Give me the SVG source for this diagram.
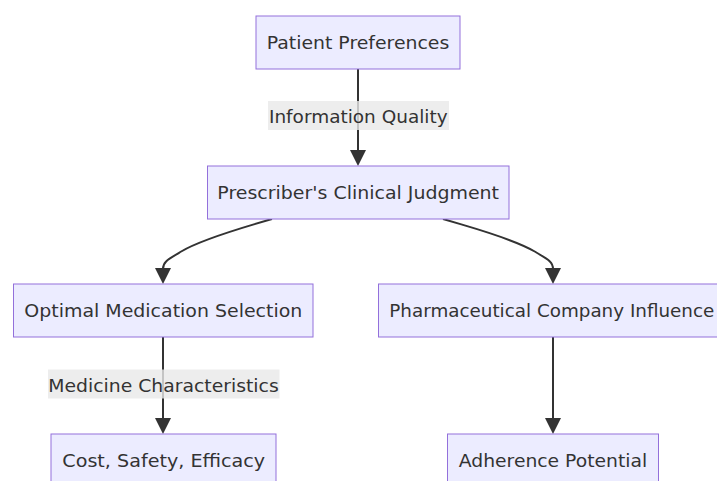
<svg xmlns="http://www.w3.org/2000/svg" width="717" height="481" viewBox="0 0 717 481">
<style>
  .node rect { fill: #ECECFF; stroke: #9370DB; stroke-width: 1; }
  .node text, .label text { font-family: "DejaVu Sans", "Liberation Sans", sans-serif; font-size: 18px; fill: #333333; text-anchor: middle; }
  .edge { fill: none; stroke: #333333; stroke-width: 2; }
  .head { fill: #333333; stroke: none; }
  .label rect { fill: rgba(232,232,232,0.8); stroke: none; }
</style>
<rect x="0" y="0" width="717" height="481" fill="#ffffff"/>
<g id="connectors">
  <path class="edge" d="M358,69 L358,151"/>
  <polygon class="head" points="350,150 366,150 358,166"/>
  <path class="edge" d="M272,219 L253.8,224.4 C235.7,229.8 199.3,240.7 181.2,251.5 C167,260 163,262 163,269"/>
  <polygon class="head" points="155,268 171,268 163,284"/>
  <path class="edge" d="M443,219 L461.3,224.4 C479.7,229.8 516.3,240.7 534.7,251.5 C549,260 553,262 553,269"/>
  <polygon class="head" points="545,268 561,268 553,284"/>
  <path class="edge" d="M163,337 L163,419"/>
  <polygon class="head" points="155,418 171,418 163,434"/>
  <path class="edge" d="M553,337 L553,419"/>
  <polygon class="head" points="545,418 561,418 553,434"/>
</g>
<g id="edge-labels">
  <g id="label-information-quality" class="label">
    <rect x="268" y="101" width="181" height="29"/>
    <text x="358.3" y="123" textLength="178.7" lengthAdjust="spacingAndGlyphs">Information Quality</text>
  </g>
  <g id="label-medicine-characteristics" class="label">
    <rect x="48" y="369.5" width="231.5" height="29"/>
    <text x="163.5" y="391.5" textLength="230.4" lengthAdjust="spacingAndGlyphs">Medicine Characteristics</text>
  </g>
</g>
<g id="node-patient-preferences" class="node">
  <rect x="256" y="16" width="204" height="53"/>
  <text x="358" y="49" textLength="182.6" lengthAdjust="spacingAndGlyphs">Patient Preferences</text>
</g>
<g id="node-prescribers-judgment" class="node">
  <rect x="207.5" y="166" width="301.5" height="53"/>
  <text x="358.2" y="199" textLength="281.7" lengthAdjust="spacingAndGlyphs">Prescriber's Clinical Judgment</text>
</g>
<g id="node-optimal-medication" class="node">
  <rect x="13.5" y="284" width="299.5" height="53"/>
  <text x="163.3" y="317" textLength="278" lengthAdjust="spacingAndGlyphs">Optimal Medication Selection</text>
</g>
<g id="node-pharma-influence" class="node">
  <rect x="378.5" y="284" width="349" height="53"/>
  <text x="551.8" y="317" textLength="325" lengthAdjust="spacingAndGlyphs">Pharmaceutical Company Influence</text>
</g>
<g id="node-cost-safety-efficacy" class="node">
  <rect x="51" y="434" width="225" height="53"/>
  <text x="163.7" y="466.5" textLength="202.7" lengthAdjust="spacingAndGlyphs">Cost, Safety, Efficacy</text>
</g>
<g id="node-adherence-potential" class="node">
  <rect x="447.5" y="434" width="211" height="53"/>
  <text x="553" y="466.5" textLength="188.3" lengthAdjust="spacingAndGlyphs">Adherence Potential</text>
</g>
</svg>
